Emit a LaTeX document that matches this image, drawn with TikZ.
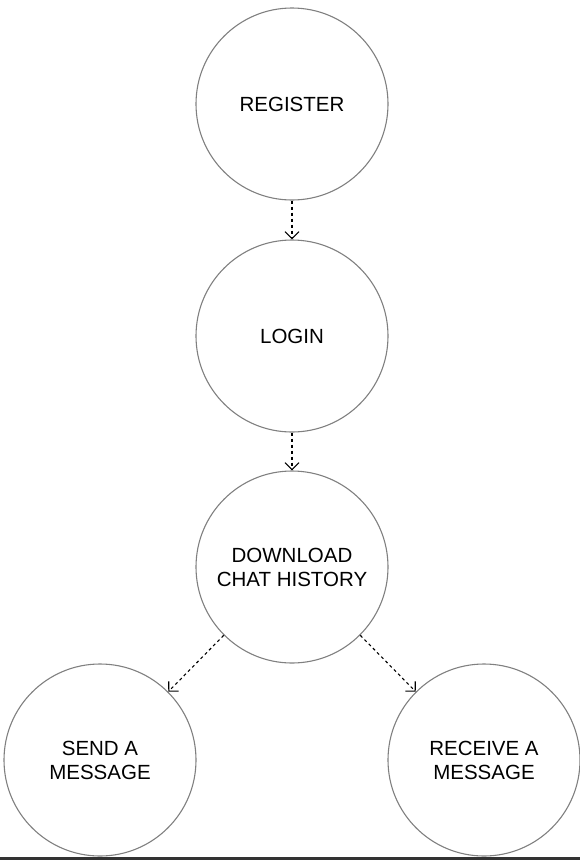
\documentclass[tikz,border=0pt]{standalone}
\usepackage{fontspec}
\setmainfont{Liberation Sans}
\usetikzlibrary{arrows.meta}

\tikzset{
	state/.style={circle, draw=gray, line width=1.1pt, minimum size=192pt, inner sep=0pt, align=center, font=\fontsize{20.5}{24}\selectfont},
	flow/.style={dashed, line width=1.1pt, -{Straight Barb[length=7pt,width=14pt]}}
}

\begin{document}
\begin{tikzpicture}[x=1pt,y=-1pt]
		\useasboundingbox (0,0) rectangle (580,860);
		\fill[black!80] (0,857) rectangle (580,860); % bottom edge

		\node[state] (register) at (292,104) {REGISTER};
		\node[state] (login) at (292,336) {LOGIN};
		\node[state] (download) at (292,567) {DOWNLOAD\\CHAT HISTORY};
		\node[state] (send) at (100,760) {SEND A\\MESSAGE};
		\node[state] (receive) at (484,760) {RECEIVE A\\MESSAGE};

		\draw[flow] (register) -- (login);
		\draw[flow] (login) -- (download);
		\draw[flow] (download.south west) -- (send.north east);
		\draw[flow] (download.south east) -- (receive.north west);
	\end{tikzpicture}
\end{document}
